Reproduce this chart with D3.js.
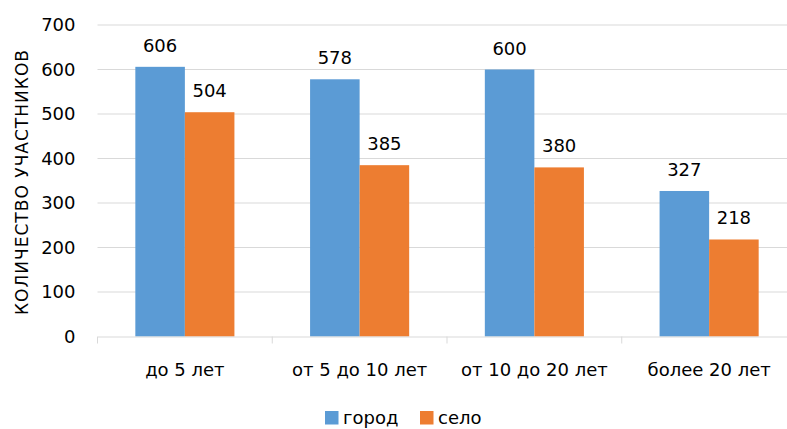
<!DOCTYPE html>
<html><head><meta charset="utf-8">
<script src="https://cdn.jsdelivr.net/npm/d3@7"></script>
<style>body{margin:0;background:#fff}svg{display:block}text{font-family:"DejaVu Sans",sans-serif;fill:#000}</style>
</head><body><svg id="c" width="787" height="429"></svg>
<script>
const categories = ["до 5 лет","от 5 до 10 лет","от 10 до 20 лет","более 20 лет"];
const seriesNames = ["город","село"];
const gorod = [606,578,600,327];
const selo = [504,385,380,218];
const yTicks = [0,100,200,300,400,500,600,700];
const colors = ["#5B9BD5","#ED7D31"];

const svg = d3.select("#c");
const pLeft = 97.5, pRight = 796.5, pTop = 25, pBottom = 336.5;
const x = d3.scaleBand().domain(categories).range([pLeft,pRight]).padding(0);
const groupFrac = 0.567;
const xs = d3.scaleBand().domain(seriesNames).range([0, x.bandwidth()*groupFrac]).padding(0);
const y = d3.scaleLinear().domain([0,700]).range([pBottom, pTop]);

// gridlines
svg.append("g").selectAll("line").data(yTicks.filter(d=>d>0)).join("line")
  .attr("x1",pLeft).attr("x2",pRight).attr("y1",d=>y(d)).attr("y2",d=>y(d))
  .attr("stroke","#d9d9d9").attr("stroke-width",1);

// y labels
const yAxis = d3.axisLeft(y).tickValues(yTicks).tickSize(0).tickPadding(22);
const ga = svg.append("g").attr("transform",`translate(${pLeft},0)`).call(yAxis);
ga.select(".domain").remove();
ga.selectAll("text").style("font-size","18px").style("font-family","DejaVu Sans").attr("fill","#000");

// bars
const data = categories.map((c,i)=>({c, vals:[gorod[i], selo[i]]}));
const off = (x.bandwidth() - x.bandwidth()*groupFrac)/2;
const g = svg.append("g").selectAll("g").data(data).join("g")
  .attr("transform",d=>`translate(${x(d.c)+off},0)`);
g.selectAll("rect").data(d=>d.vals.map((v,j)=>({v,s:seriesNames[j],j}))).join("rect")
  .attr("x",d=>xs(d.s)).attr("width",xs.bandwidth())
  .attr("y",d=>y(d.v)).attr("height",d=>pBottom-y(d.v)).attr("fill",d=>colors[d.j]);
g.selectAll("text").data(d=>d.vals.map((v,j)=>({v,s:seriesNames[j],j}))).join("text")
  .attr("x",d=>xs(d.s)+xs.bandwidth()/2).attr("y",d=>y(d.v)-15)
  .attr("text-anchor","middle").style("font-size","18px").text(d=>d.v);

// x axis
const xAxis = d3.axisBottom(x).tickSize(0).tickPadding(27);
const gx = svg.append("g").attr("transform",`translate(0,${pBottom})`).call(xAxis);
gx.select(".domain").attr("stroke","#d9d9d9");
gx.selectAll("text").style("font-size","18px").style("font-family","DejaVu Sans").attr("fill","#000");
// category boundary ticks
const bounds = categories.map(c=>x(c)).concat([pRight]);
svg.append("g").selectAll("line").data(bounds).join("line")
  .attr("x1",d=>d).attr("x2",d=>d).attr("y1",pBottom).attr("y2",pBottom+7)
  .attr("stroke","#d9d9d9");

// y title
svg.append("text").attr("transform",`translate(27.5,182.5) rotate(-90)`)
  .attr("text-anchor","middle").style("font-size","17px")
  .attr("textLength",265).attr("lengthAdjust","spacing").text("КОЛИЧЕСТВО УЧАСТНИКОВ");

// legend
const lg = svg.append("g");
const lx = [325, 420];
seriesNames.forEach((s,i)=>{
  lg.append("rect").attr("x",lx[i]).attr("y",411).attr("width",13.5).attr("height",13.5).attr("fill",colors[i]);
  lg.append("text").attr("x",lx[i]+18).attr("y",424).style("font-size","18px").text(s);
});
</script></body></html>
